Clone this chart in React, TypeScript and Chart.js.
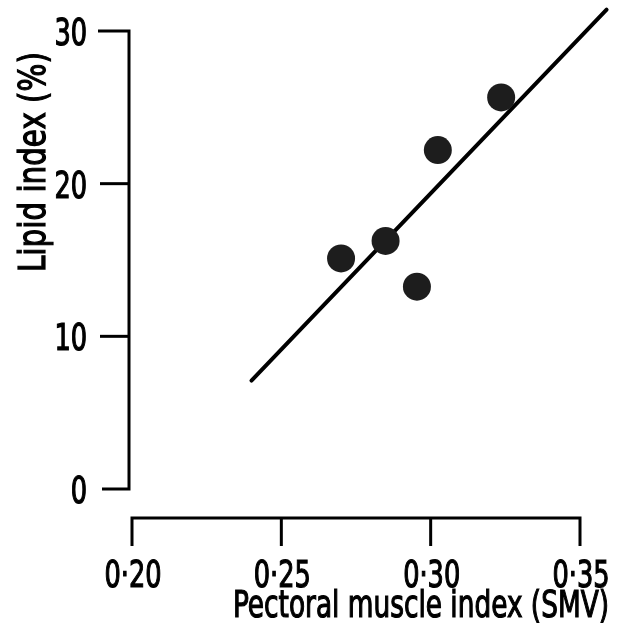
import React, { useEffect, useRef } from 'react';
import { Chart, registerables } from 'chart.js';

Chart.register(...registerables);

// ---- data ----
const xTickValues = [0.2, 0.25, 0.3, 0.35];
const yTickValues = [0, 10, 20, 30];
const pointX = [0.27, 0.2849, 0.2954, 0.3024, 0.3236];
const pointY = [15.1, 16.25, 13.25, 22.2, 25.65];
const fitX = [0.24, 0.3589];
const fitY = [7.1, 31.4];
const xTitle = 'Pectoral muscle index (SMV)';
const yTitle = 'Lipid index (%)';

const FONT = "'Liberation Sans Narrow', 'DejaVu Sans Condensed', 'DejaVu Sans', sans-serif";
const FONT_SIZE = 38;
const SQUEEZE = 0.75;

const fmtX = (v: number) => v.toFixed(2).replace('.', '·');

function drawText(ctx: any, text: string, x: number, y: number, align: 'left' | 'center' | 'right', sx: number) {
  ctx.save();
  ctx.translate(x, y);
  ctx.scale(sx, 1);
  ctx.textAlign = align;
  ctx.textBaseline = 'alphabetic';
  ctx.lineWidth = 1.2;
  ctx.strokeStyle = '#000';
  ctx.fillText(text, 0, 0);
  ctx.strokeText(text, 0, 0);
  ctx.restore();
}

const axesPlugin = {
  id: 'offsetAxes',
  afterDraw(chart: any) {
    const { ctx, scales, chartArea } = chart;
    const x = scales.x;
    const y = scales.y;
    ctx.save();
    ctx.strokeStyle = '#000';
    ctx.lineWidth = 3;
    ctx.lineJoin = 'miter';
    ctx.lineCap = 'butt';

    // y axis (ends at the 0 and 30 ticks)
    const axX = x.getPixelForValue(xTickValues[0]) - 3;
    const tickLen = 31;
    const yTop = y.getPixelForValue(yTickValues[yTickValues.length - 1]);
    const yBot = y.getPixelForValue(yTickValues[0]);
    ctx.beginPath();
    ctx.moveTo(axX - tickLen, yTop);
    ctx.lineTo(axX, yTop);
    ctx.lineTo(axX, yBot);
    ctx.lineTo(axX - tickLen + 4, yBot);
    ctx.stroke();
    yTickValues.slice(1, -1).forEach((v) => {
      const p = y.getPixelForValue(v);
      ctx.beginPath();
      ctx.moveTo(axX - tickLen + 2, p);
      ctx.lineTo(axX, p);
      ctx.stroke();
    });

    // x axis, offset below the plotting area
    const axY = yBot + 29;
    const xl = x.getPixelForValue(xTickValues[0]);
    const xr = x.getPixelForValue(xTickValues[xTickValues.length - 1]);
    const xTickLen = 28;
    ctx.beginPath();
    ctx.moveTo(xl, axY + xTickLen);
    ctx.lineTo(xl, axY);
    ctx.lineTo(xr, axY);
    ctx.lineTo(xr, axY + xTickLen);
    ctx.stroke();
    xTickValues.slice(1, -1).forEach((v) => {
      const p = x.getPixelForValue(v);
      ctx.beginPath();
      ctx.moveTo(p, axY);
      ctx.lineTo(p, axY + xTickLen);
      ctx.stroke();
    });

    // tick labels
    ctx.fillStyle = '#000';
    ctx.font = `${FONT_SIZE}px ${FONT}`;
    x.ticks.forEach((t: any) => {
      drawText(ctx, fmtX(t.value), x.getPixelForValue(t.value) + 1, axY + 69, 'center', SQUEEZE);
    });
    y.ticks.forEach((t: any) => {
      drawText(ctx, String(t.value), axX - 42, y.getPixelForValue(t.value) + 14, 'right', SQUEEZE);
    });

    // axis titles, squeezed to the reference lettering's width
    const xw = ctx.measureText(xTitle).width;
    drawText(ctx, xTitle, chartArea.left + 289, chartArea.bottom + 128, 'center', 376 / xw);

    const yw = ctx.measureText(yTitle).width;
    ctx.save();
    ctx.translate(45, chartArea.top + 131);
    ctx.rotate(-Math.PI / 2);
    drawText(ctx, yTitle, 0, 0, 'center', 220 / yw);
    ctx.restore();

    ctx.restore();
  },
};

export default function App() {
  const ref = useRef<HTMLCanvasElement | null>(null);

  useEffect(() => {
    if (!ref.current) return;
    const fixPad = (s: any) => {
      s.paddingLeft = 0;
      s.paddingRight = 0;
      s.paddingTop = 0;
      s.paddingBottom = 0;
    };
    const chart = new Chart(ref.current, {
      type: 'scatter',
      data: {
        datasets: [
          {
            type: 'scatter',
            data: pointX.map((v, i) => ({ x: v, y: pointY[i] })),
            pointRadius: 14,
            pointHoverRadius: 14,
            backgroundColor: '#1d1d1d',
            borderWidth: 0,
          },
          {
            type: 'line',
            data: fitX.map((v, i) => ({ x: v, y: fitY[i] })),
            borderColor: '#000',
            borderWidth: 4,
            borderCapStyle: 'round',
            pointRadius: 0,
            fill: false,
            clip: false,
          } as any,
        ],
      },
      options: {
        animation: false,
        responsive: false,
        events: [],
        layout: { padding: { left: 0, top: 31, right: 59, bottom: 0 } },
        plugins: { legend: { display: false }, tooltip: { enabled: false } },
        scales: {
          x: {
            type: 'linear',
            min: 0.2,
            max: 0.35,
            grid: { display: false },
            border: { display: false },
            afterBuildTicks: (s: any) => {
              s.ticks = xTickValues.map((v) => ({ value: v }));
            },
            afterFit: (s: any) => {
              s.height = 147;
              fixPad(s);
            },
            ticks: { display: false },
          },
          y: {
            type: 'linear',
            min: 0,
            max: 30,
            grid: { display: false },
            border: { display: false },
            afterBuildTicks: (s: any) => {
              s.ticks = yTickValues.map((v) => ({ value: v }));
            },
            afterFit: (s: any) => {
              s.width = 132;
              fixPad(s);
            },
            ticks: { display: false },
          },
        },
      },
      plugins: [axesPlugin],
    });
    return () => chart.destroy();
  }, []);

  return (
    <div style={{ position: 'absolute', left: 0, top: 0, width: 639, height: 636, background: '#fff' }}>
      <canvas ref={ref} width={639} height={636} style={{ display: 'block' }} />
    </div>
  );
}
